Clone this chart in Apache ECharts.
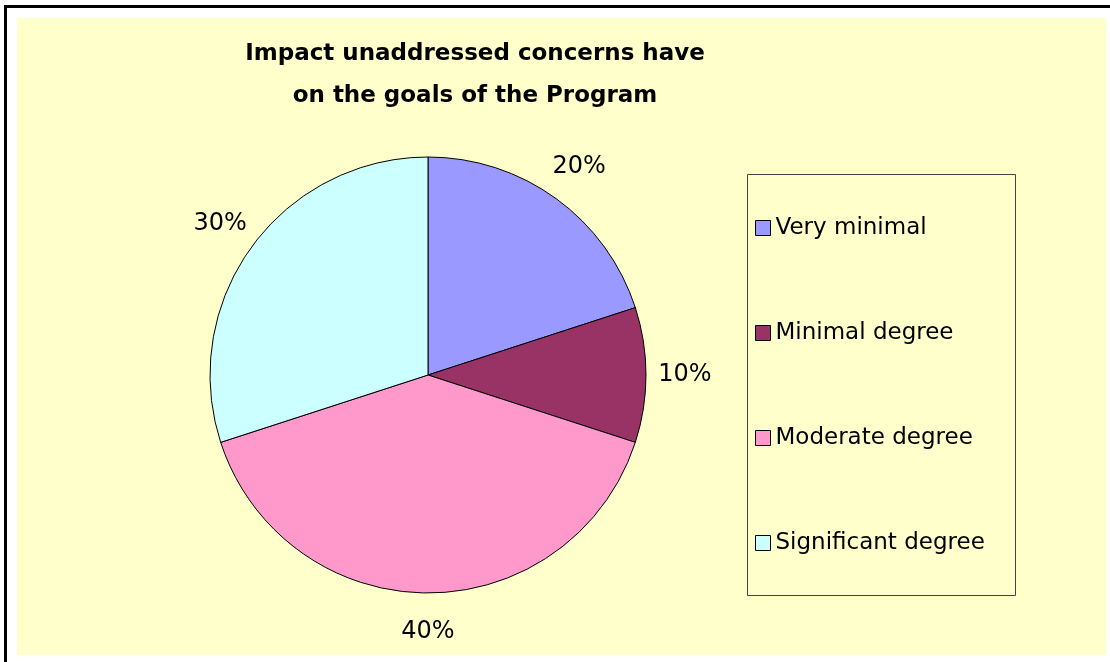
<!DOCTYPE html>
<html>
<head>
<meta charset="utf-8">
<script src="https://cdn.jsdelivr.net/npm/echarts@6/dist/echarts.min.js"></script>
<style>
  body { margin: 0; background: #fff; }
  #main { width: 1110px; height: 662px; }
</style>
</head>
<body>
<div id="main"></div>
<script>
// chart data
const categories = ['Very minimal', 'Minimal degree', 'Moderate degree', 'Significant degree'];
const shares = [20, 10, 40, 30];
const sliceColors = ['#9999FF', '#993366', '#FF99CC', '#CCFFFF'];

const myChart = echarts.init(document.getElementById('main'));

const pieData = categories.map((name, i) => ({
    name: name,
    value: shares[i],
    itemStyle: { color: sliceColors[i] }
}));

// same values again, only used to carry the percent labels (ring outside the pie)
const labelData = categories.map((name, i) => ({ name: name, value: shares[i] }));

let option;

option = {
    animation: false,
    backgroundColor: '#ffffff',
    title: {
        text: 'Impact unaddressed concerns have\non the goals of the Program',
        left: 470,
        top: 28,
        textAlign: 'center',
        textStyle: {
            fontFamily: 'DejaVu Sans',
            fontWeight: 'bold',
            fontSize: 23,
            lineHeight: 42,
            color: '#000'
        }
    },
    graphic: [
        // frame lines (top and left only, as in the screenshot)
        { type: 'rect', z: -10, shape: { x: 4, y: 5, width: 1106, height: 3 }, style: { fill: '#000' } },
        { type: 'rect', z: -10, shape: { x: 4, y: 5, width: 3, height: 657 }, style: { fill: '#000' } },
        // plot area background
        { type: 'rect', z: -9, shape: { x: 17, y: 18, width: 1089, height: 637 }, style: { fill: '#FFFFCC' } },
        // legend box
        { type: 'rect', z: -8, shape: { x: 747.5, y: 174.5, width: 268, height: 421 }, style: { fill: 'none', stroke: '#444', lineWidth: 1 } }
    ],
    legend: {
        orient: 'vertical',
        left: 750,
        top: 211,
        icon: 'rect',
        itemWidth: 15,
        itemHeight: 15,
        itemGap: 81,
        itemStyle: { borderColor: '#000', borderWidth: 1 },
        textStyle: {
            fontFamily: 'DejaVu Sans',
            fontSize: 23,
            lineHeight: 24,
            color: '#000'
        },
        data: categories
    },
    series: [
        {
            name: 'Impact',
            type: 'pie',
            center: [428, 375],
            radius: 218,
            startAngle: 90,
            clockwise: true,
            itemStyle: { borderColor: '#000', borderWidth: 1 },
            label: { show: false },
            labelLine: { show: false },
            emphasis: { disabled: true },
            data: pieData
        },
        {
            name: 'labels',
            type: 'pie',
            center: [428, 375],
            radius: [218, 290],
            startAngle: 90,
            clockwise: true,
            silent: true,
            itemStyle: { color: 'rgba(0,0,0,0)', borderWidth: 0 },
            label: {
                show: true,
                position: 'inside',
                formatter: '{c}%',
                fontFamily: 'DejaVu Sans',
                fontSize: 24,
                color: '#000'
            },
            labelLine: { show: false },
            emphasis: { disabled: true },
            data: labelData
        }
    ]
};

option && myChart.setOption(option);
</script>
</body>
</html>
